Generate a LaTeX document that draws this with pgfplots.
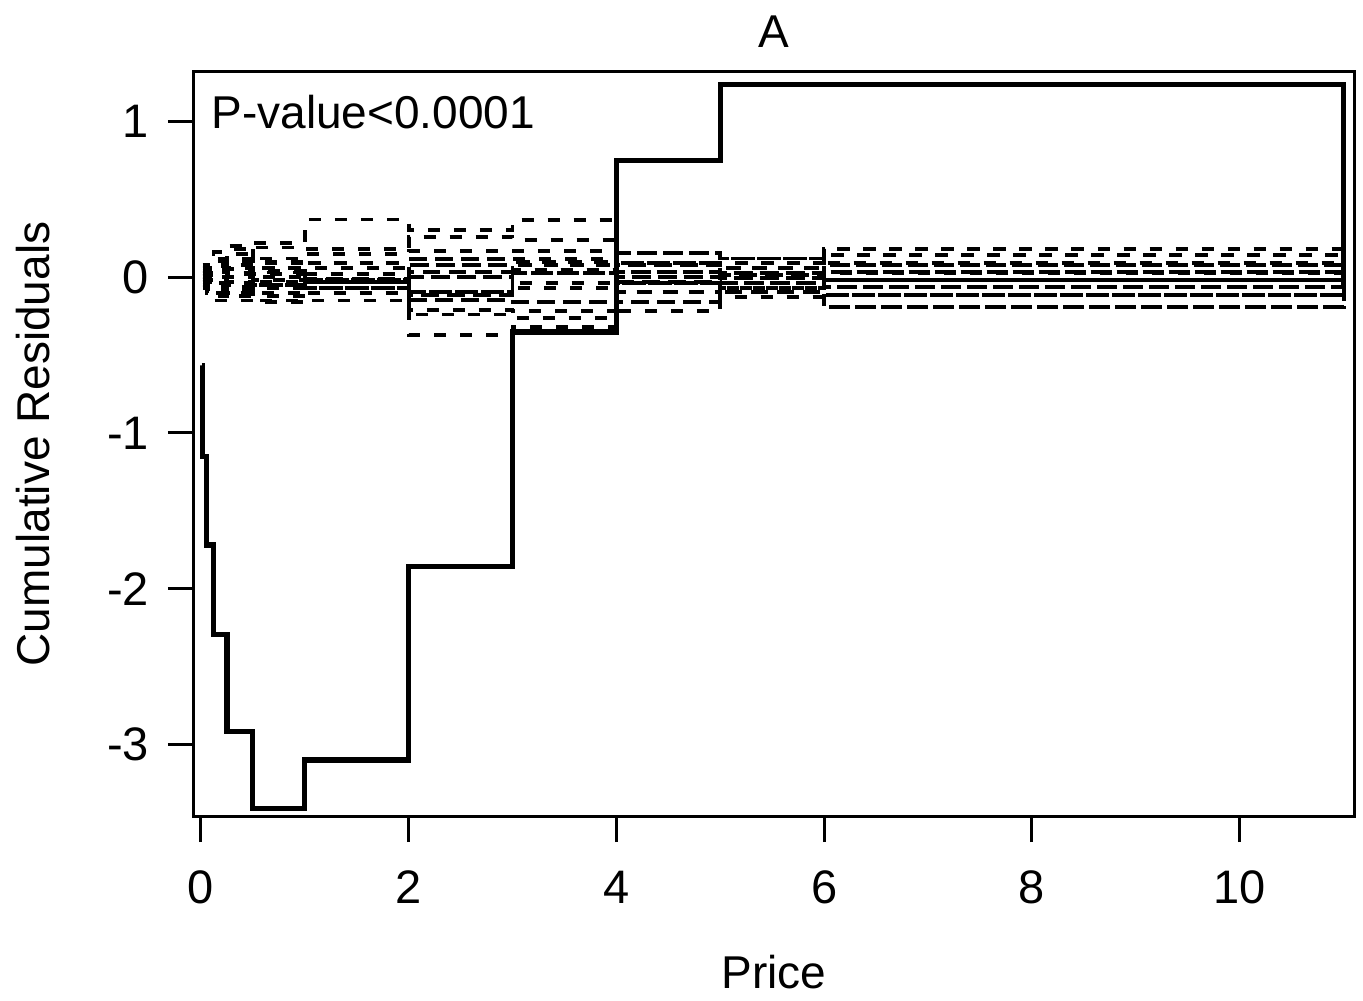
\documentclass[border=0pt]{standalone}
\usepackage{pgfplots}
\pgfplotsset{compat=1.18}
\usepackage{pgfplotstable}
\usepackage{fontspec}
\setmainfont{Liberation Sans}
\usetikzlibrary{calc}

% simulated realizations (dashed), one column each
\pgfplotstableread{
x     r1    r2    r3    r4    r5     r6    r7     r8    r9     r10   r11    r12   r13    r14   r15    r16    r17   r18    r19   r20
0.016 0.05  0.03  -0.02 0.08  -0.06  0.02  -0.04  0.01  -0.01  0.04  -0.03  0.00  0.06   -0.05 0.02   -0.02  0.03  -0.07  0.01  -0.03
0.055 0.08  0.05  -0.05 0.06  -0.10  0.03  -0.02  0.02  -0.03  0.06  -0.06  0.01  0.04   -0.08 -0.01  0.00   0.05  -0.04  0.03  -0.02
0.12  0.12  0.10  -0.10 0.16  -0.15  0.06  -0.05  0.04  -0.02  0.09  -0.08  0.02  0.07   -0.12 0.00   -0.04  0.03  -0.06  0.05  -0.01
0.25  0.18  0.15  -0.12 0.20  -0.15  0.10  -0.08  0.05  -0.03  0.12  -0.10  0.00  0.06   -0.10 0.03   -0.06  0.08  -0.04  0.02  -0.05
0.5   0.22  0.19  -0.15 0.09  -0.16  0.06  -0.07  0.02  -0.02  0.10  -0.12  0.04  0.03   -0.05 -0.03  -0.10  0.12  0.00   0.06  -0.05
1     0.37  0.18  -0.15 0.15  -0.10  0.09  -0.07  0.06  -0.02  -0.01 -0.03  -0.02 -0.03  -0.02 0.02   -0.03  0.09  -0.07  -0.01 -0.03
2     0.30  0.26  -0.37 0.17  -0.24  0.115 -0.21  0.077 -0.148 0.034 -0.116 0.0   -0.094 0.034 0.0    -0.148 0.077 -0.116 0.115 -0.094
3     0.366 0.24  -0.32 0.17  -0.26  0.115 -0.22  0.096 -0.16  0.077 -0.07  0.045 0.026  -0.04 0.026  -0.16  0.045 -0.04  0.096 0.077
4     0.154 0.09  -0.22 0.077 -0.16  0.034 -0.094 0.09  -0.04  0.002 -0.03  0.077 -0.04  0.034 0.002  -0.094 0.09  -0.03  0.154 -0.16
5     0.12  0.09  -0.13 0.058 -0.096 0.026 -0.07  0.013 -0.04  -0.006 -0.04 0.09  -0.096 0.026 -0.006 -0.13  0.12  0.013  0.058 -0.07
6     0.178 0.141 -0.19 0.09  -0.116 0.077 -0.064 0.032 -0.019 0.026 -0.064 0.032 -0.019 0.077 -0.019 -0.116 0.141 -0.064 0.178 -0.19
11    0     0     0     0     0      0     0      0     0      0     0      0     0      0     0      0      0     0      0     0
}\sims

% observed cumulative residuals
\pgfplotstableread{
x     y
0.01  -0.565
0.016 -1.154
0.055 -1.72
0.12  -2.295
0.25  -2.92
0.5   -3.41
1     -3.10
2     -1.856
3     -0.353
4     0.751
5     1.235
11    -0.05
}\observed

\begin{document}
\begin{tikzpicture}
\begin{axis}[
    scale only axis,
    width=580pt, height=372pt,
    xmin=-0.067, xmax=11.1,
    ymin=-3.46, ymax=1.317,
    axis line style={line width=1.5pt},
    tick style={line width=1.5pt, black},
    tick align=outside,
    major tick length=13pt,
    xtick={0,2,4,6,8,10},
    xticklabels={0,2,4,6,8,10},
    ytick={-3,-2,-1,0,1},
    yticklabels={-3,-2,-1,0,1},
    xtick pos=bottom, ytick pos=left,
    tick label style={font=\fontsize{23.5}{27}\selectfont},
    xticklabel style={yshift=-11pt},
    yticklabel style={xshift=-6pt},
    title={A},
    title style={at={(axis description cs:0.5,1.038)}, anchor=center, font=\fontsize{23}{27}\selectfont},
    xlabel={Price},
    xlabel style={at={(axis description cs:0.5,-0.21)}, anchor=center, font=\fontsize{23}{27}\selectfont},
    ylabel={Cumulative Residuals},
    ylabel style={at={(axis description cs:-0.139,0.5)}, anchor=center, rotate=0, font=\fontsize{23}{27}\selectfont},
    sim/.style={const plot, black, line width=1.9pt, dash pattern=on 6pt off 7pt},
]
\pgfplotsinvokeforeach{1,...,20}{
  \addplot[sim] table[x=x, y=r#1] {\sims};
}
\addplot[const plot, black, line width=2.6pt] table[x=x, y=y] {\observed};
\node[anchor=west, font=\fontsize{23}{27}\selectfont] at (axis description cs:0.009,0.946) {P-value<0.0001};
\end{axis}
\pgfresetboundingbox
\path ($(current axis.south west)+(-97pt,-92pt)$) rectangle ($(current axis.south west)+(584.5pt,408pt)$);
\end{tikzpicture}
\end{document}
